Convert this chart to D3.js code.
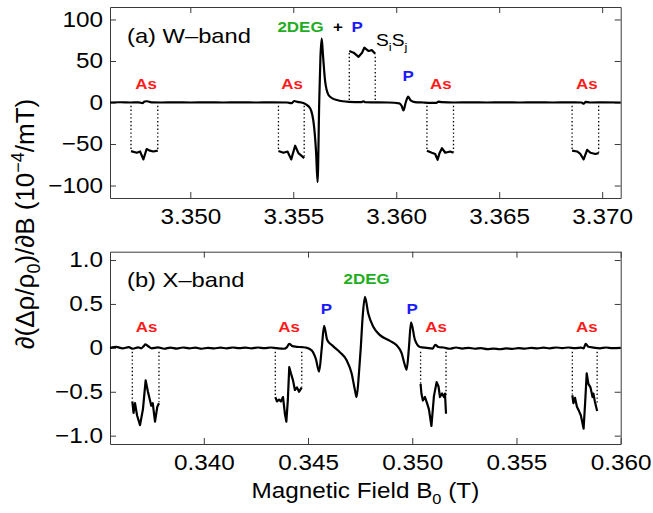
<!DOCTYPE html>
<html>
<head>
<meta charset="utf-8">
<script src="https://cdn.jsdelivr.net/npm/d3@7"></script>
<style>
  body { margin: 0; background: #fff; }
  text { font-family: "Liberation Sans", Arial, Helvetica, sans-serif; }
</style>
</head>
<body>
<div id="chart"></div>
<script>
// W-band panel (a): field in T, signal in 10^-4/mT
const wTicksX = [3.35, 3.355, 3.36, 3.365, 3.37];
const wTickLabelsX = ["3.350", "3.355", "3.360", "3.365", "3.370"];
const wTicksY = [-100, -50, 0, 50, 100];
const wTickLabelsY = ["\u2212100", "\u221250", "0", "50", "100"];

const wTrace = [
  [3.3461, 0], [3.3466, 0.3], [3.3471, 0], [3.3475, 0.2], [3.34768, -0.8], [3.34778, 1.2], [3.3479, 1.5],
  [3.3481, 0.2], [3.3486, 0], [3.3492, 0.2], [3.35, 0], [3.3508, 0.2], [3.3516, 0], [3.3524, 0.2],
  [3.3532, 0], [3.354, 0.1], [3.3547, 0], [3.35492, -0.8], [3.35504, 1.8], [3.3552, 0.8], [3.3554, 0],
  [3.3556, -2], [3.35582, -7], [3.35601, -29], [3.35611, -61], [3.35618, -96], [3.35626, 0], [3.35632, 55],
  [3.35638, 77], [3.35644, 58], [3.35655, 25], [3.35671, 9], [3.3569, 5], [3.35712, 3], [3.3574, 1.5],
  [3.3577, 0.8], [3.3581, 0.5], [3.3583, 0.4], [3.3584, 1.5], [3.3585, 0.3], [3.359, 0.2], [3.3596, 0],
  [3.36015, -1], [3.36026, -4], [3.36035, -9.5], [3.36046, 0], [3.36058, 7], [3.3607, 2.5], [3.3609, 0.5],
  [3.3613, 0], [3.36195, -0.5], [3.36205, 1], [3.3622, 0.5], [3.3628, 0], [3.3636, 0.2], [3.3644, 0],
  [3.3652, 0.2], [3.366, 0], [3.3668, 0.2], [3.3676, 0], [3.3684, 0.1], [3.369, 0], [3.3691, -1.5],
  [3.3692, 0.8], [3.3694, 0], [3.37, 0.1], [3.3709, 0]
];
const wInsetAs1 = [[3.34712, -58.5], [3.3474, -60.5], [3.34756, -59], [3.34772, -68.5], [3.34788, -56], [3.34804, -58], [3.3482, -59], [3.34842, -58]];
const wInsetAs2 = [[3.35428, -58.5], [3.35452, -60.5], [3.35472, -59], [3.3549, -68.5], [3.35509, -52], [3.35525, -61], [3.35553, -67]];
const wInsetSiSj = [[3.35772, 62], [3.35793, 60], [3.35817, 55], [3.35834, 60], [3.35845, 66], [3.35866, 62], [3.35882, 63], [3.35898, 58.6]];
const wInsetAs3 = [[3.36149, -58], [3.36173, -60.5], [3.36189, -62], [3.36201, -69], [3.3621, -61], [3.36222, -55], [3.36238, -60.5], [3.36262, -59], [3.36278, -60.5]];
const wInsetAs4 = [[3.36854, -58], [3.36878, -59], [3.36894, -62], [3.3691, -68.5], [3.36927, -57], [3.36943, -60.5], [3.36967, -62], [3.36983, -61]];
// dotted connectors: [field, from, to]
const wLinks = [
  [3.34712, -4, -58], [3.34842, -4, -58], [3.35428, -4, -58], [3.35553, -4, -66],
  [3.35772, 3, 61], [3.35898, 3, 58], [3.36149, -4, -58], [3.36278, -4, -60],
  [3.36854, -4, -58], [3.36983, -4, -61]
];
// annotations: [text, field, value, kind]
const wNotes = [
  ["As", 3.34785, 16.6, "as"], ["As", 3.35494, 16.6, "as"], ["As", 3.36216, 16.6, "as"], ["As", 3.36925, 16.6, "as"],
  ["2DEG", 3.35535, 84.4, "deg"], ["+", 3.35717, 84.4, "plus"], ["P", 3.3581, 84.4, "p"], ["P", 3.36058, 25.4, "p"]
];

// X-band panel (b)
const xTicksX = [0.34, 0.345, 0.35, 0.355, 0.36];
const xTickLabelsX = ["0.340", "0.345", "0.350", "0.355", "0.360"];
const xTicksY = [-1, -0.5, 0, 0.5, 1];
const xTickLabelsY = ["\u22121.0", "\u22120.5", "0", "0.5", "1.0"];

const xTrace = [
  [0.3355, 0], [0.3358, 0.01], [0.3361, -0.005], [0.3364, 0.008], [0.3366, -0.01], [0.33685, 0.005],
  [0.337, -0.005], [0.33712, 0.02], [0.3372, 0.04], [0.33735, 0.015], [0.3375, -0.005], [0.3378, 0.005],
  [0.3381, -0.01], [0.3384, 0.003], [0.3387, -0.008], [0.339, 0.004], [0.3393, -0.006], [0.3396, 0.002],
  [0.3399, -0.01], [0.3402, 0], [0.3405, -0.007], [0.3408, 0.003], [0.3411, -0.006], [0.3414, 0.004],
  [0.3417, -0.004], [0.342, 0.002], [0.3423, -0.006], [0.3426, 0.004], [0.3429, -0.003], [0.3432, 0.004],
  [0.3435, -0.004], [0.34385, -0.01], [0.34398, 0.005], [0.3441, 0.045], [0.34425, 0.02], [0.34445, 0.012],
  [0.3447, 0.008], [0.34495, 0], [0.34518, -0.03], [0.34538, -0.13], [0.34553, -0.27], [0.34566, 0],
  [0.34577, 0.25], [0.34592, 0.09], [0.3462, 0.02], [0.34653, -0.05], [0.34685, -0.14], [0.34709, -0.29],
  [0.34725, -0.48], [0.34733, -0.56], [0.34744, -0.3], [0.34753, 0], [0.34762, 0.35], [0.34773, 0.58],
  [0.34789, 0.39], [0.34813, 0.24], [0.34845, 0.145], [0.34893, 0.08], [0.34925, 0.03], [0.34949, -0.06],
  [0.34965, -0.2], [0.34973, -0.25], [0.34984, 0], [0.34994, 0.29], [0.35013, 0.09], [0.35037, 0.01],
  [0.35069, 0], [0.35098, -0.008], [0.3511, 0.035], [0.35125, 0.01], [0.3515, 0.004], [0.3518, -0.01],
  [0.3521, 0.004], [0.3524, -0.008], [0.3527, 0], [0.353, -0.01], [0.3533, -0.004], [0.3536, -0.015],
  [0.3539, -0.008], [0.3542, -0.016], [0.3545, -0.006], [0.3548, -0.012], [0.3551, -0.003], [0.3554, -0.009],
  [0.3557, 0], [0.356, -0.006], [0.3563, 0.002], [0.3566, -0.005], [0.3569, 0.004], [0.3572, -0.002],
  [0.3575, 0.004], [0.3578, -0.003], [0.3581, 0.002], [0.35822, -0.005], [0.35832, 0.045], [0.35845, 0.012],
  [0.3587, 0.003], [0.359, -0.005], [0.3593, 0.004], [0.3596, -0.003], [0.36, 0]
];
const xInsetAs1 = [
  [0.33657, -0.61], [0.33663, -0.74], [0.3367, -0.63], [0.3368, -0.77], [0.33694, -0.88], [0.33708, -0.7],
  [0.33721, -0.37], [0.33732, -0.5], [0.33742, -0.6], [0.33748, -0.66], [0.33755, -0.63], [0.33766, -0.84],
  [0.33777, -0.67], [0.33785, -0.63]
];
const xInsetAs2 = [
  [0.34343, -0.56], [0.34351, -0.61], [0.34361, -0.59], [0.3437, -0.61], [0.3438, -0.56], [0.34389, -0.75],
  [0.34396, -0.84], [0.34403, -0.6], [0.3441, -0.22], [0.34418, -0.29], [0.34428, -0.37], [0.34437, -0.48],
  [0.34447, -0.45], [0.34457, -0.5], [0.3447, -0.45]
];
const xInsetAs3 = [
  [0.3504, -0.41], [0.35044, -0.52], [0.35051, -0.6], [0.35061, -0.56], [0.35071, -0.63], [0.3508, -0.7],
  [0.35092, -0.89], [0.35104, -0.55], [0.35117, -0.39], [0.35126, -0.44], [0.35133, -0.56], [0.35143, -0.52],
  [0.35152, -0.56], [0.35157, -0.52], [0.35162, -0.75]
];
const xInsetAs4 = [
  [0.35768, -0.54], [0.35773, -0.63], [0.35781, -0.57], [0.3579, -0.67], [0.358, -0.72], [0.35809, -0.77],
  [0.35822, -0.92], [0.3583, -0.6], [0.35837, -0.29], [0.35845, -0.41], [0.35855, -0.45], [0.35865, -0.56],
  [0.35869, -0.52], [0.35876, -0.61], [0.35887, -0.72]
];
const xLinks = [
  [0.33657, -0.045, -0.6], [0.33785, -0.045, -0.62], [0.34343, -0.045, -0.55], [0.3447, -0.045, -0.44],
  [0.3504, -0.045, -0.41], [0.35162, -0.045, -0.54], [0.35768, -0.045, -0.53], [0.35887, -0.045, -0.65]
];
const xNotes = [
  ["As", 0.33726, 0.182, "as"], ["As", 0.34409, 0.182, "as"], ["As", 0.35114, 0.182, "as"], ["As", 0.35837, 0.182, "as"],
  ["P", 0.34588, 0.39, "p"], ["P", 0.34999, 0.39, "p"], ["2DEG", 0.34781, 0.725, "deg"]
];

const W = 653, H = 513;
const SX = 1.13; // horizontal stretch of the source figure's glyphs
const LEFT = 110, RIGHT = 620.7;
const NOTE_COLORS = { as: "#ff1a1a", deg: "#1fae1f", p: "#1a1aff", plus: "#000" };

const svg = d3.select("#chart").append("svg").attr("width", W).attr("height", H);

function stretchedText(parent, x, y) {
  return parent.append("g").attr("transform", `translate(${x},${y}) scale(${SX},1)`).append("text");
}

function drawPanel(cfg) {
  const x = d3.scaleLinear().domain(cfg.xDomain).range([LEFT, RIGHT]);
  const y = d3.scaleLinear().domain(cfg.yDomain).range([cfg.bottom, cfg.top]);
  const g = svg.append("g");

  const styleAxis = (sel) => {
    sel.select(".domain").attr("stroke", "#3a3a3a").attr("stroke-width", 1);
    sel.selectAll(".tick line").attr("stroke", "#3a3a3a");
  };

  const bottomAxis = g.append("g").attr("transform", `translate(0,${cfg.bottom})`)
    .call(d3.axisBottom(x).tickValues(cfg.ticksX).tickSizeInner(-6).tickSizeOuter(0).tickPadding(11)
      .tickFormat((d, i) => cfg.labelsX[i]))
    .call(styleAxis);
  g.append("g").attr("transform", `translate(0,${cfg.top})`)
    .call(d3.axisTop(x).tickValues(cfg.ticksX).tickSizeInner(-6).tickSizeOuter(0).tickFormat(""))
    .call(styleAxis);
  const leftAxis = g.append("g").attr("transform", `translate(${LEFT},0)`)
    .call(d3.axisLeft(y).tickValues(cfg.ticksY).tickSizeInner(-6).tickSizeOuter(0).tickPadding(7)
      .tickFormat((d, i) => cfg.labelsY[i]))
    .call(styleAxis);
  g.append("g").attr("transform", `translate(${RIGHT},0)`)
    .call(d3.axisRight(y).tickValues(cfg.ticksY).tickSizeInner(-6).tickSizeOuter(0).tickFormat(""))
    .call(styleAxis);

  bottomAxis.attr("font-family", null);
  leftAxis.attr("font-family", null);
  bottomAxis.selectAll("text").attr("font-size", 21.5).attr("fill", "#000")
    .attr("transform", `scale(${SX},1)`);
  leftAxis.selectAll("text").attr("font-size", 21.5).attr("fill", "#000")
    .attr("x", 0).attr("transform", `translate(-7,0) scale(${SX},1)`);

  const line = d3.line().x((d) => x(d[0])).y((d) => y(d[1]));
  const smooth = d3.line().x((d) => x(d[0])).y((d) => y(d[1])).curve(d3.curveMonotoneX);

  g.append("g").selectAll("line").data(cfg.links).join("line")
    .attr("x1", (d) => x(d[0])).attr("x2", (d) => x(d[0]))
    .attr("y1", (d) => y(d[1])).attr("y2", (d) => y(d[2]))
    .attr("stroke", "#000").attr("stroke-width", 1.3).attr("stroke-dasharray", "1.4,2.4");

  g.append("path").datum(cfg.trace).attr("d", smooth)
    .attr("fill", "none").attr("stroke", "#000").attr("stroke-width", 2.2).attr("stroke-linejoin", "round");

  g.append("g").selectAll("path").data(cfg.insets).join("path").attr("d", line)
    .attr("fill", "none").attr("stroke", "#000").attr("stroke-width", 2.2).attr("stroke-linejoin", "round");

  cfg.notes.forEach(([txt, fx, fy, kind]) => {
    stretchedText(g, x(fx), y(fy)).attr("text-anchor", "middle").attr("font-size", 15)
      .attr("font-weight", "bold").attr("fill", NOTE_COLORS[kind]).text(txt);
  });

  stretchedText(g, 127, cfg.top + 35.5).attr("font-size", 21).attr("fill", "#000").text(cfg.title);
  return { x, y, g };
}

const panelA = drawPanel({
  xDomain: [3.3461, 3.3709], yDomain: [-115, 115], top: 7, bottom: 198,
  ticksX: wTicksX, labelsX: wTickLabelsX, ticksY: wTicksY, labelsY: wTickLabelsY,
  trace: wTrace, insets: [wInsetAs1, wInsetAs2, wInsetSiSj, wInsetAs3, wInsetAs4],
  links: wLinks, notes: wNotes, title: "(a) W\u2013band"
});

// S_i S_j label beside the magnified correlation feature
const sij = stretchedText(panelA.g, panelA.x(3.35902), panelA.y(67.8)).attr("font-size", 17).attr("fill", "#000");
sij.append("tspan").text("S");
sij.append("tspan").attr("font-size", 11.5).attr("dy", 5).text("i");
sij.append("tspan").attr("dy", -5).text("S");
sij.append("tspan").attr("font-size", 11.5).attr("dy", 5).text("j");

drawPanel({
  xDomain: [0.3355, 0.36], yDomain: [-1.095, 1.095], top: 251.7, bottom: 444,
  ticksX: xTicksX, labelsX: xTickLabelsX, ticksY: xTicksY, labelsY: xTickLabelsY,
  trace: xTrace, insets: [xInsetAs1, xInsetAs2, xInsetAs3, xInsetAs4],
  links: xLinks, notes: xNotes, title: "(b) X\u2013band"
});

// axis titles
const xt = stretchedText(svg, (LEFT + RIGHT) / 2, 498).attr("text-anchor", "middle").attr("font-size", 21.5).attr("fill", "#000");
xt.append("tspan").text("Magnetic Field B");
xt.append("tspan").attr("font-size", 14.5).attr("dy", 6).text("0");
xt.append("tspan").attr("dy", -6).text(" (T)");

const yt = svg.append("g").attr("transform", "translate(34,224) rotate(-90)")
  .append("text").attr("text-anchor", "middle").attr("font-size", 26).attr("fill", "#000");
yt.append("tspan").text("\u2202(\u0394\u03c1/\u03c1");
yt.append("tspan").attr("font-size", 18).attr("dy", 6).text("0");
yt.append("tspan").attr("dy", -6).text(")/\u2202B (10");
yt.append("tspan").attr("font-size", 18).attr("dy", -10).text("\u22124");
yt.append("tspan").attr("dy", 10).text("/mT)");
</script>
</body>
</html>
